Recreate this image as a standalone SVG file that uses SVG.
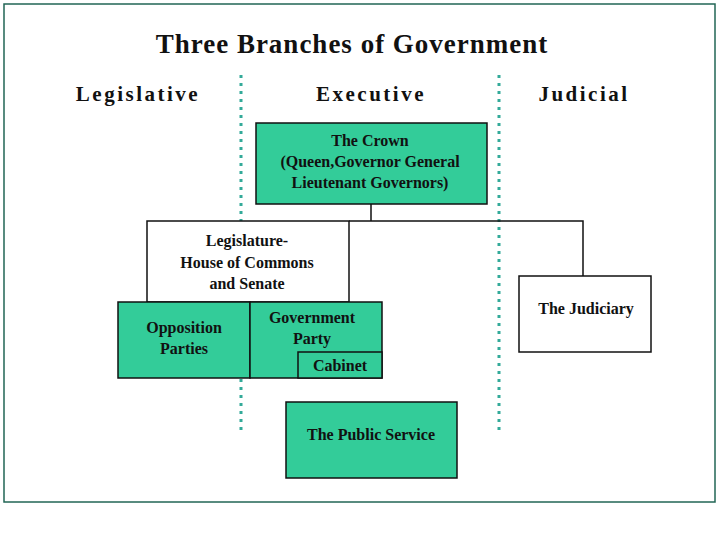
<svg xmlns="http://www.w3.org/2000/svg" width="720" height="540" viewBox="0 0 720 540">
<style>
text{font-family:"Liberation Serif",serif;font-weight:bold;fill:#111;text-anchor:middle}
.n{font-size:16px}
.g{fill:#33cc99;stroke:#111;stroke-width:1.5}
.w{fill:#fff;stroke:#111;stroke-width:1.5}
.d{stroke:#33aa99;stroke-width:3;stroke-dasharray:3,5}
</style>
<rect width="720" height="540" fill="#fff"/>
<rect x="4" y="4" width="711" height="498" fill="none" stroke="#226655" stroke-width="1.5"/>
<text x="352" y="53" font-size="27" letter-spacing="1">Three Branches of Government</text>
<text x="138" y="101" font-size="21" letter-spacing="2.5">Legislative</text>
<text x="371" y="101" font-size="21" letter-spacing="2.5">Executive</text>
<text x="584" y="101" font-size="21" letter-spacing="2.5">Judicial</text>
<g id="dividers"><line class="d" x1="241" y1="75" x2="241" y2="432"/><line class="d" x1="499" y1="75" x2="499" y2="432"/></g>
<g id="connectors" stroke="#111" stroke-width="1.5" fill="none">
<path d="M371 204V221M349 221H583V276"/>
</g>
<g id="crown"><rect class="g" x="256" y="123" width="231" height="81"/>
<text class="n" x="370" y="146">The Crown</text><text class="n" x="370" y="167">(Queen,Governor General</text><text class="n" x="370" y="188">Lieutenant Governors)</text></g>
<g id="legislature"><rect class="w" x="147" y="221" width="202" height="81"/>
<text class="n" x="247" y="246">Legislature-</text><text class="n" x="247" y="268">House of Commons</text><text class="n" x="247" y="289">and Senate</text></g>
<g id="opposition"><rect class="g" x="118" y="302" width="132" height="76"/>
<text class="n" x="184" y="333">Opposition</text><text class="n" x="184" y="354">Parties</text></g>
<g id="government"><rect class="g" x="250" y="302" width="132" height="76"/>
<text class="n" x="312" y="323">Government</text><text class="n" x="312" y="344">Party</text></g>
<g id="cabinet"><rect class="g" x="298" y="352" width="84" height="26"/>
<text class="n" x="340" y="371">Cabinet</text></g>
<g id="judiciary"><rect class="w" x="519" y="276" width="132" height="76"/>
<text class="n" x="586" y="314">The Judiciary</text></g>
<g id="publicservice"><rect class="g" x="286" y="402" width="171" height="76"/>
<text class="n" x="371" y="440">The Public Service</text></g>
</svg>
